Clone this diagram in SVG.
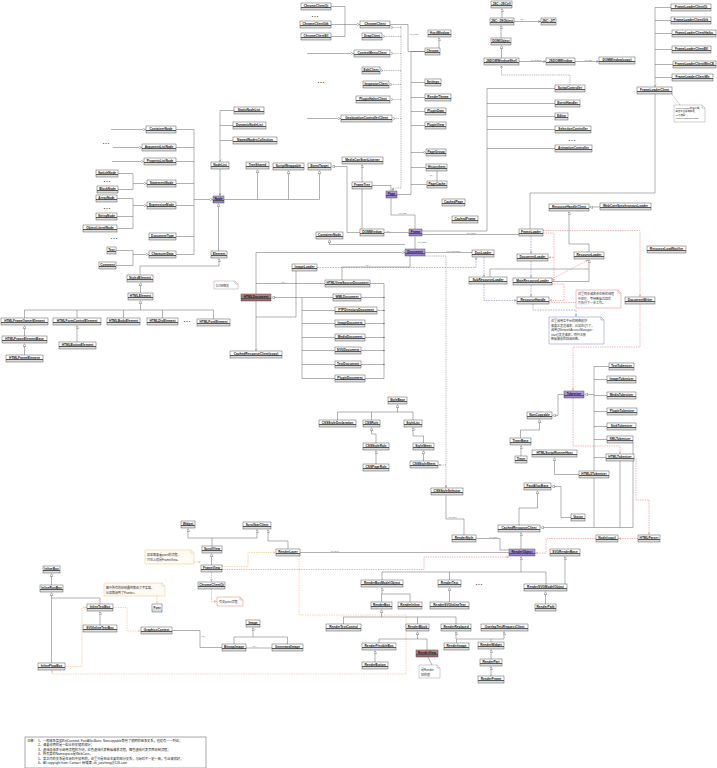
<svg xmlns="http://www.w3.org/2000/svg" width="717" height="768" viewBox="0 0 717 768">
<defs>
<linearGradient id="gw" x1="0" y1="0" x2="0" y2="1"><stop offset="0" stop-color="#fff"/><stop offset=".64" stop-color="#fff"/><stop offset=".64" stop-color="#555"/><stop offset=".68" stop-color="#555"/><stop offset=".68" stop-color="#dcdcdc"/><stop offset=".82" stop-color="#dcdcdc"/><stop offset=".82" stop-color="#666"/><stop offset=".85" stop-color="#666"/><stop offset=".85" stop-color="#dcdcdc"/><stop offset="1" stop-color="#dcdcdc"/></linearGradient>
<linearGradient id="gp" x1="0" y1="0" x2="0" y2="1"><stop offset="0" stop-color="#b99ee8"/><stop offset=".64" stop-color="#a98cdc"/><stop offset=".64" stop-color="#555"/><stop offset=".68" stop-color="#555"/><stop offset=".68" stop-color="#9a7fd0"/><stop offset=".82" stop-color="#9a7fd0"/><stop offset=".82" stop-color="#666"/><stop offset=".85" stop-color="#666"/><stop offset=".85" stop-color="#9a7fd0"/><stop offset="1" stop-color="#9a7fd0"/></linearGradient>
<linearGradient id="gr" x1="0" y1="0" x2="0" y2="1"><stop offset="0" stop-color="#bd8585"/><stop offset=".64" stop-color="#b07272"/><stop offset=".64" stop-color="#555"/><stop offset=".68" stop-color="#555"/><stop offset=".68" stop-color="#a06464"/><stop offset=".82" stop-color="#a06464"/><stop offset=".82" stop-color="#666"/><stop offset=".85" stop-color="#666"/><stop offset=".85" stop-color="#a06464"/><stop offset="1" stop-color="#a06464"/></linearGradient>
<marker id="t" viewBox="0 0 10 10" refX="10" refY="5" markerWidth="3" markerHeight="3" markerUnits="userSpaceOnUse" orient="auto"><path d="M0 0L10 5L0 10Z" fill="#fff" stroke="#444" stroke-width="1.2"/></marker>
<marker id="o" viewBox="0 0 10 10" refX="10" refY="5" markerWidth="2.4" markerHeight="2.4" markerUnits="userSpaceOnUse" orient="auto"><circle cx="5" cy="5" r="4" fill="#fff" stroke="#444" stroke-width="1.4"/></marker>
<marker id="ak" viewBox="0 0 10 10" refX="10" refY="5" markerWidth="2.6" markerHeight="2.6" markerUnits="userSpaceOnUse" orient="auto"><path d="M0 1L10 5L0 9" fill="none" stroke="#444" stroke-width="1.4"/></marker>
<marker id="ab" viewBox="0 0 10 10" refX="10" refY="5" markerWidth="2.8" markerHeight="2.8" markerUnits="userSpaceOnUse" orient="auto"><path d="M0 1L10 5L0 9" fill="none" stroke="#6a6ad0" stroke-width="1.4"/></marker>
<marker id="ar" viewBox="0 0 10 10" refX="10" refY="5" markerWidth="2.8" markerHeight="2.8" markerUnits="userSpaceOnUse" orient="auto"><path d="M0 1L10 5L0 9" fill="none" stroke="#e06868" stroke-width="1.4"/></marker>
<marker id="ao" viewBox="0 0 10 10" refX="10" refY="5" markerWidth="2.8" markerHeight="2.8" markerUnits="userSpaceOnUse" orient="auto"><path d="M0 1L10 5L0 9" fill="none" stroke="#f0a850" stroke-width="1.4"/></marker>
</defs>
<style>
.n rect{fill:url(#gw);stroke:#444;stroke-width:.45}
.n.p rect{fill:url(#gp)}
.n.r rect{fill:url(#gr)}
.n text{font-family:"Liberation Sans",Arial,sans-serif;font-weight:bold;font-size:3.2px;text-anchor:middle;fill:#111}
.l{fill:none;stroke:#555;stroke-width:.45}
.d{fill:none;stroke:#444;stroke-width:.4;stroke-dasharray:1 .8}
.bd{fill:none;stroke:#6a6ad0;stroke-width:.5;stroke-dasharray:1.6 1}
.rd{fill:none;stroke:#e06868;stroke-width:.5;stroke-dasharray:1.4 1}
.od{fill:none;stroke:#f0a850;stroke-width:.5;stroke-dasharray:1.4 1}
.nt path{fill:#fff;stroke:#888;stroke-width:.4}
.nt text{font-family:"Liberation Sans","Noto Sans CJK SC",sans-serif;font-size:3px;fill:#333}
.nb path{stroke:#6060c8}
.nr path{stroke:#e06060}
.no path{stroke:#f0b060;fill:#fffaf2}
.dots{font-family:"Liberation Sans",sans-serif;font-size:4px;fill:#333;text-anchor:middle}
.m{font-family:"Liberation Sans",sans-serif;font-size:2.2px;fill:#555}
.lg{font-family:"Liberation Sans","Noto Sans CJK SC",sans-serif;font-size:3.2px;fill:#222}
</style>
<rect width="717" height="768" fill="#fff"/>

<g id="connectors">
<path class="l" d="M331 6.5H345V36.5H331M331 24.5H345"/>
<path class="l" d="M345 24.5H359.5" marker-end="url(#t)"/>
<path class="l" d="M390 24.5H408V51.5H425"/>
<path class="l" d="M439 48V37.5" marker-end="url(#t)"/>
<path class="d" d="M401 26V188H393V190.5" marker-end="url(#ak)"/>
<path class="d" d="M401 27.5H390.5" marker-end="url(#o)"/>
<path class="d" d="M401 36.5H382.5" marker-end="url(#o)"/>
<path class="d" d="M401 53.5H390.5" marker-end="url(#o)"/>
<path class="d" d="M401 70.5H380.5" marker-end="url(#o)"/>
<path class="d" d="M401 84.5H389.5" marker-end="url(#o)"/>
<path class="d" d="M401 99.5H390.5" marker-end="url(#o)"/>
<path class="d" d="M401 118.5H392.5" marker-end="url(#o)"/>
<path class="l" d="M307 53.5H353.5" marker-end="url(#t)"/>
<path class="l" d="M307 118.5H340.5" marker-end="url(#t)"/>
<path class="l" d="M425 51.5H411V194.5H397M411 82.5H425M411 97.5H425M411 111.5H425M411 125.5H425M411 167.5H426M411 184.5H427"/>
<path class="l" d="M411 152.5H425.5" marker-end="url(#o)"/>
<path class="l" d="M437 171V181"/>
<path class="l" d="M234 110.5H220V161.5" marker-end="url(#t)"/>
<path class="l" d="M220 125.5H233M220 140.5H233"/>
<path class="l" d="M220 169V195.5" marker-end="url(#ak)"/>
<path class="l" d="M224 199.5H319.5"/>
<path class="l" d="M257.5 199.5V169.5" marker-end="url(#t)"/>
<path class="l" d="M288.5 199.5V170.5" marker-end="url(#t)"/>
<path class="l" d="M319.5 199.5V170.5" marker-end="url(#t)"/>
<path class="l" d="M360 232.5H347V166.5H331.5" marker-end="url(#t)"/>
<path class="l" d="M362 182V164.5" marker-end="url(#t)"/>
<path class="l" d="M362 189V229"/>
<path class="l" d="M372 185.5H391V191"/>
<path class="l" d="M391 198V215H415V229"/>
<path class="l" d="M384 232.5H409"/>
<path class="l" d="M422 234.5H519"/>
<path class="l" d="M422 231H487V88.5H555M487 103.5H555M487 116.5H555M487 129.5H555M487 148.5H555"/>
<path class="l" d="M655 20.5H671M655 33.5H672M655 49.5H672M655 64.5H673M655 77.5H672M655 7.5H671"/>
<path class="l" d="M655 7.5V86.5" marker-end="url(#t)"/>
<path class="l" d="M655 94V193H530V229"/>
<path class="d" d="M672 94L680 105"/>
<path class="l" d="M502 18V8.5" marker-end="url(#t)"/>
<path class="l" d="M514 21.5H540.5" marker-end="url(#ak)"/>
<path class="l" d="M501 38V25.5" marker-end="url(#t)"/>
<path class="l" d="M501.5 58V45.5" marker-end="url(#t)"/>
<path class="l" d="M519 61.5H545.5" marker-end="url(#ak)"/>
<path class="l" d="M575 61.5H598.5" marker-end="url(#ak)"/>
<path class="d" d="M570 85V75H501.5V65.5" marker-end="url(#ak)"/>
<path class="l" d="M589 252V244H569V211.5" marker-end="url(#t)"/>
<path class="l" d="M600 207H589.5" marker-end="url(#t)"/>
<path class="bd" d="M531 236V253.5" marker-end="url(#ab)"/>
<path class="bd" d="M531 261V277.5" marker-end="url(#ab)"/>
<path class="bd" d="M531 285V296.5" marker-end="url(#ab)"/>
<path class="bd" d="M533 304V310H576V316.5" marker-end="url(#ab)"/>
<path class="bd" d="M484 257V276.5" marker-end="url(#ab)"/>
<path class="bd" d="M484 284V300.5H516.5" marker-end="url(#ab)"/>
<path class="bd" d="M317 267.5H476V257.5" marker-end="url(#ab)"/>
<path class="l" d="M490 277V269H589V259.5" marker-end="url(#t)"/>
<path class="l" d="M552 281.5H589V269"/>
<path class="rd" d="M543 233H554V257.5H548.5" marker-end="url(#ar)"/>
<path class="rd" d="M554 257.5V280H552.5" marker-end="url(#ar)"/>
<path class="rd" d="M552 284H564V300.5H549.5" marker-end="url(#ar)"/>
<path class="rd" d="M552 279L588 260" marker-end="url(#ar)"/>
<path class="rd" d="M549 302.5H576"/>
<path class="rd" d="M543 230.5H640V296.5" marker-end="url(#ar)"/>
<path class="rd" d="M640 304V347H573V390.5" marker-end="url(#ar)"/>
<path class="rd" d="M573 398V446H620V453.5" marker-end="url(#ar)"/>
<path class="rd" d="M634 458H636V500H649V534.5" marker-end="url(#ar)"/>
<path class="rd" d="M638 538.5H618.5" marker-end="url(#ar)"/>
<path class="rd" d="M596 538.5H546V553H535.5" marker-end="url(#ar)"/>
<path class="l" d="M594 366.5V527.5M594 366.5H609M594 379.5H607M594 395.5H607M594 411.5H607M594 426.5H607M594 439.5H607M594 457.5H606"/>
<path class="l" d="M594 394.5H584.5" marker-end="url(#t)"/>
<path class="l" d="M594 527.5H540.5" marker-end="url(#t)"/>
<path class="l" d="M594 527.5H633V443M620 527.5V461"/>
<path class="l" d="M564 394.5H558V415.5H552.5" marker-end="url(#t)"/>
<path class="l" d="M520.5 438V430H539.5V419.5" marker-end="url(#t)"/>
<path class="l" d="M521 456V445.5" marker-end="url(#t)"/>
<path class="l" d="M579 474.5H554.5V457.5" marker-end="url(#t)"/>
<path class="l" d="M519 525V508H537.5V490.5" marker-end="url(#t)"/>
<path class="l" d="M571 517.5H561V486.5H551.5" marker-end="url(#t)"/>
<path class="l" d="M521 549V532.5" marker-end="url(#t)"/>
<path class="l" d="M521 572V556.5" marker-end="url(#t)"/>
<path class="l" d="M382 572H546V584M382 572V580M449.5 572V580"/>
<path class="l" d="M565 584V556.5" marker-end="url(#t)"/>
<path class="l" d="M300 552.5H509"/>
<path class="l" d="M476 538.5H500V550H509"/>
<path class="l" d="M446 495.5V519H464V535"/>
<path class="d" d="M425 256H446V487.5" marker-end="url(#ak)"/>
<path class="d" d="M446 465H438.5" marker-end="url(#ak)"/>
<path class="l" d="M397.5 412V404.5" marker-end="url(#t)"/>
<path class="l" d="M337.5 420V412H413V420M371.5 412V420"/>
<path class="l" d="M376 443V434H371.5V427.5" marker-end="url(#t)"/>
<path class="l" d="M376 464V450.5" marker-end="url(#t)"/>
<path class="l" d="M423.5 443V436H413V427.5" marker-end="url(#t)"/>
<path class="l" d="M423.5 461V450.5" marker-end="url(#t)"/>
<path class="l" d="M405 244.5H329.5V239.5" marker-end="url(#t)"/>
<path class="l" d="M256 294V252.5H404.5" marker-end="url(#t)"/>
<path class="l" d="M256 301V350.5" marker-end="url(#t)"/>
<path class="l" d="M302 297.5H271.5" marker-end="url(#t)"/>
<path class="l" d="M302 297.5V378.5M302 297.5H333M302 310.5H335M302 323.5H335M302 337.5H335M302 350.5H335M302 364.5H335M302 378.5H335M256 283.5H325"/>
<path class="l" d="M370 283.5H384V378.5M361 297.5H384M377 310.5H384M365 323.5H384M365 337.5H384M361 350.5H384M361 364.5H384M365 378.5H384"/>
<g fill="#333"><circle cx="384" cy="297.5" r=".6"/><circle cx="384" cy="310.5" r=".6"/><circle cx="384" cy="323.5" r=".6"/><circle cx="384" cy="337.5" r=".6"/><circle cx="384" cy="350.5" r=".6"/><circle cx="384" cy="364.5" r=".6"/></g>
<path class="l" d="M410 256V267H342V280"/>
<path class="l" d="M296 271V317H256"/>
<path class="l" d="M415 249V236.5"/>
<path class="l" d="M425 252.5H472"/>
<path class="l" d="M111 129.5H145.5" marker-end="url(#t)"/>
<path class="l" d="M113 147.5H141.5" marker-end="url(#t)"/>
<path class="l" d="M112 161.5H143.5" marker-end="url(#t)"/>
<path class="l" d="M118 173.5H133V189.5H118"/>
<path class="l" d="M133 183.5H146.5" marker-end="url(#t)"/>
<path class="l" d="M117 198.5H133V228.5H117M117 216.5H133"/>
<path class="l" d="M133 205.5H146.5" marker-end="url(#t)"/>
<path class="l" d="M116 250.5H133V265.5H116"/>
<path class="l" d="M133 254.5H148.5" marker-end="url(#t)"/>
<path class="l" d="M176 129.5H194V254.5H176M176 147.5H194M176 161.5H194M176 183.5H194M176 205.5H194M176 236.5H194"/>
<path class="l" d="M194 199.5H212.5" marker-end="url(#t)"/>
<path class="l" d="M218.5 251V203.5" marker-end="url(#t)"/>
<path class="l" d="M140 275V266H219V258.5" marker-end="url(#t)"/>
<path class="l" d="M140.5 293V282.5" marker-end="url(#t)"/>
<path class="l" d="M140.5 310V300.5" marker-end="url(#t)"/>
<path class="l" d="M24.5 318V310H213.5V319M77 310V318M123.5 310V318M162.5 310V318"/>
<path class="l" d="M24.5 336V325.5" marker-end="url(#t)"/>
<path class="l" d="M24.5 355V343.5" marker-end="url(#t)"/>
<path class="l" d="M77 342V325.5" marker-end="url(#t)"/>
<path class="l" d="M212 546V538H188V528.5" marker-end="url(#t)"/>
<path class="l" d="M212 538H257V529.5" marker-end="url(#t)"/>
<path class="l" d="M288 549V541H268V529.5" marker-end="url(#t)"/>
<path class="l" d="M211.5 565V553.5" marker-end="url(#t)"/>
<path class="rd" d="M211.5 572V581.5" marker-end="url(#ar)"/>
<path class="rd" d="M211.5 589V601.5H216.5" marker-end="url(#ar)"/>
<path class="od" d="M222 566.5H248V552.5H275.5" marker-end="url(#ao)"/>
<path class="rd" d="M222 569.5H424V557H508.5" marker-end="url(#ar)"/>
<path class="od" d="M299 556V615H406V674H52V670.5" marker-end="url(#ao)"/>
<path class="od" d="M194 562H200.5" marker-end="url(#ao)"/>
<path class="l" d="M51.5 585V573.5" marker-end="url(#t)"/>
<path class="l" d="M100 604V598H51.5V592.5" marker-end="url(#t)"/>
<path class="l" d="M51.5 663V598"/>
<path class="l" d="M100 625V611.5" marker-end="url(#t)"/>
<path class="od" d="M113 607.5H127V631H140.5" marker-end="url(#ao)"/>
<path class="od" d="M65 666.5H82V607.5H86.5" marker-end="url(#ao)"/>
<path class="od" d="M157 596V603.5" marker-end="url(#ao)"/>
<path class="l" d="M172 630.5H200V647.5H222"/>
<path class="l" d="M253 637V627.5" marker-end="url(#t)"/>
<path class="l" d="M234 644V637H287.5V644"/>
<path class="l" d="M246 648H272"/>
<path class="l" d="M382 594V587.5" marker-end="url(#t)"/>
<path class="l" d="M381.5 602V594H410V602"/>
<path class="l" d="M449.5 602V587.5" marker-end="url(#t)"/>
<path class="l" d="M381.5 617V609.5" marker-end="url(#t)"/>
<path class="l" d="M343.5 624V617H456V624M417.5 617V624"/>
<path class="l" d="M417.5 639V631.5" marker-end="url(#t)"/>
<path class="l" d="M379 643V639H427V650"/>
<path class="l" d="M375 662V650.5" marker-end="url(#t)"/>
<path class="l" d="M456 639V631.5" marker-end="url(#t)"/>
<path class="l" d="M456.5 643V639H491V642"/>
<path class="l" d="M491 639H504V631.5" marker-end="url(#t)"/>
<path class="l" d="M491 659V649.5" marker-end="url(#t)"/>
<path class="l" d="M491 676V666.5" marker-end="url(#t)"/>
<path class="l" d="M545.5 604V591.5" marker-end="url(#t)"/>
<path class="l" d="M428 657L432 665"/>
<text class="m" x="409" y="35">+m_client</text>
<text class="m" x="520" y="20">+m_...</text>
<text class="m" x="530" y="60.5">+m_window</text>
<text class="m" x="584" y="60.5">+m_impl</text>
<text class="m" x="398" y="214">+m_page</text>
<text class="m" x="386" y="231.5">+m_...</text>
<text class="m" x="466" y="233.5">+m_loader</text>
<text class="m" x="417" y="243">+m_frame</text>
<text class="m" x="446" y="251.5">+m_docLoader</text>
<text class="m" x="365" y="266">+m_...</text>
<text class="m" x="281" y="282.5">+m_...</text>
<text class="m" x="448" y="518">+m_style</text>
<text class="m" x="489" y="537.5">+m_style</text>
<text class="m" x="330" y="551.5">+m_layer</text>
<text class="m" x="201" y="637">+m_...</text>
<text class="m" x="252" y="647">+m_...</text>
<text class="m" x="429" y="176">+m_...</text>
</g>

<g id="ChromeClientQt" class="n"><rect x="301" y="3" width="30" height="7"/><text x="316" y="7">ChromeClientQt</text></g>
<g id="ChromeClientGtk" class="n"><rect x="300" y="21" width="31" height="7"/><text x="315.5" y="25">ChromeClientGtk</text></g>
<g id="ChromeClientEfl" class="n"><rect x="301" y="33" width="30" height="7"/><text x="316" y="37">ChromeClientEfl</text></g>
<g id="ChromeClient" class="n"><rect x="360" y="21" width="30" height="7"/><text x="375" y="25">ChromeClient</text></g>
<g id="DragClient" class="n"><rect x="362" y="33" width="20" height="7"/><text x="372" y="37">DragClient</text></g>
<g id="ContextMenuClient" class="n"><rect x="354" y="50" width="36" height="7"/><text x="372" y="54">ContextMenuClient</text></g>
<g id="EditClient" class="n"><rect x="362" y="67" width="18" height="7"/><text x="371" y="71">EditClient</text></g>
<g id="InspectorClient" class="n"><rect x="363" y="81" width="26" height="7"/><text x="376" y="85">InspectorClient</text></g>
<g id="PluginHalterClient" class="n"><rect x="356" y="96" width="34" height="7"/><text x="373" y="100">PluginHalterClient</text></g>
<g id="GeolocationControllerClient" class="n"><rect x="341" y="115" width="51" height="7"/><text x="366.5" y="119">GeolocationControllerClient</text></g>
<g id="HostWindow" class="n"><rect x="428" y="30" width="23" height="7"/><text x="439.5" y="34">HostWindow</text></g>
<g id="Chrome" class="n"><rect x="425" y="48" width="15" height="7"/><text x="432.5" y="52">Chrome</text></g>
<g id="Settings" class="n"><rect x="425" y="79" width="16" height="7"/><text x="433" y="83">Settings</text></g>
<g id="RenderTheme" class="n"><rect x="425" y="94" width="26" height="7"/><text x="438" y="98">RenderTheme</text></g>
<g id="PluginData" class="n"><rect x="425" y="108" width="21" height="7"/><text x="435.5" y="112">PluginData</text></g>
<g id="PluginView" class="n"><rect x="425" y="122" width="21" height="7"/><text x="435.5" y="126">PluginView</text></g>
<g id="PageGroup" class="n"><rect x="426" y="149" width="20" height="7"/><text x="436" y="153">PageGroup</text></g>
<g id="HistoryItem" class="n"><rect x="426" y="164" width="21" height="7"/><text x="436.5" y="168">HistoryItem</text></g>
<g id="PageCache" class="n"><rect x="427" y="181" width="20" height="7"/><text x="437" y="185">PageCache</text></g>
<g id="StaticNodeList" class="n"><rect x="234" y="107" width="30" height="7"/><text x="249" y="111">StaticNodeList</text></g>
<g id="DynamicNodeList" class="n"><rect x="233" y="122" width="33" height="7"/><text x="249.5" y="126">DynamicNodeList</text></g>
<g id="NamedNodesCollection" class="n"><rect x="233" y="137" width="44" height="7"/><text x="255" y="141">NamedNodesCollection</text></g>
<g id="NodeList" class="n"><rect x="211" y="162" width="18" height="7"/><text x="220" y="166">NodeList</text></g>
<g id="TreeShared" class="n"><rect x="246" y="162" width="23" height="7"/><text x="257.5" y="166">TreeShared</text></g>
<g id="ScriptWrappable" class="n"><rect x="273" y="163" width="31" height="7"/><text x="288.5" y="167">ScriptWrappable</text></g>
<g id="EventTarget" class="n"><rect x="308" y="163" width="23" height="7"/><text x="319.5" y="167">EventTarget</text></g>
<g id="MediaCanStartListener" class="n"><rect x="342" y="157" width="41" height="7"/><text x="362.5" y="161">MediaCanStartListener</text></g>
<g id="FrameTree" class="n"><rect x="352" y="182" width="20" height="7"/><text x="362" y="186">FrameTree</text></g>
<g id="Page" class="n p"><rect x="386" y="191" width="11" height="7"/><text x="391.5" y="195">Page</text></g>
<g id="CachedPage" class="n"><rect x="442" y="199" width="23" height="7"/><text x="453.5" y="203">CachedPage</text></g>
<g id="CachedFrame" class="n"><rect x="452" y="216" width="26" height="7"/><text x="465" y="220">CachedFrame</text></g>
<g id="DOMWindow" class="n"><rect x="360" y="229" width="24" height="7"/><text x="372" y="233">DOMWindow</text></g>
<g id="Frame" class="n p"><rect x="409" y="229" width="13" height="7"/><text x="415.5" y="233">Frame</text></g>
<g id="ContainerNode" class="n"><rect x="316" y="232" width="27" height="7"/><text x="329.5" y="236">ContainerNode</text></g>
<g id="Document" class="n p"><rect x="405" y="249" width="20" height="7"/><text x="415" y="253">Document</text></g>
<g id="DocLoader" class="n"><rect x="472" y="250" width="22" height="7"/><text x="483" y="254">DocLoader</text></g>
<g id="SubResourceLoader" class="n"><rect x="469" y="277" width="38" height="7"/><text x="488" y="281">SubResourceLoader</text></g>
<g id="HTMLDocument" class="n r"><rect x="241" y="294" width="30" height="7"/><text x="256" y="298">HTMLDocument</text></g>
<g id="ImageLoader" class="n"><rect x="292" y="264" width="25" height="7"/><text x="304.5" y="268">ImageLoader</text></g>
<g id="HTMLViewSourceDocument" class="n"><rect x="325" y="280" width="45" height="7"/><text x="347.5" y="284">HTMLViewSourceDocument</text></g>
<g id="WMLDocument" class="n"><rect x="333" y="294" width="28" height="7"/><text x="347" y="298">WMLDocument</text></g>
<g id="FTPDirectoryDocument" class="n"><rect x="335" y="307" width="42" height="7"/><text x="356" y="311">FTPDirectoryDocument</text></g>
<g id="ImageDocument" class="n"><rect x="335" y="320" width="30" height="7"/><text x="350" y="324">ImageDocument</text></g>
<g id="MediaDocument" class="n"><rect x="335" y="334" width="30" height="7"/><text x="350" y="338">MediaDocument</text></g>
<g id="SVGDocument" class="n"><rect x="335" y="347" width="26" height="7"/><text x="348" y="351">SVGDocument</text></g>
<g id="TextDocument" class="n"><rect x="335" y="361" width="26" height="7"/><text x="348" y="365">TextDocument</text></g>
<g id="PluginDocument" class="n"><rect x="335" y="375" width="30" height="7"/><text x="350" y="379">PluginDocument</text></g>
<g id="CachedResourceClientCopy" class="n"><rect x="230" y="351" width="52" height="7"/><text x="256" y="355">CachedResourceClient(copy)</text></g>

<g id="JSCell" class="n"><rect x="491" y="1" width="21" height="7"/><text x="501.5" y="5">JSC::JSCell</text></g>
<g id="JSObject" class="n"><rect x="490" y="18" width="24" height="7"/><text x="502" y="22">JSC::JSObject</text></g>
<g id="JIT" class="n"><rect x="541" y="18" width="15" height="7"/><text x="548.5" y="22">JSC::JIT</text></g>
<g id="DOMObject" class="n"><rect x="491" y="38" width="20" height="7"/><text x="501" y="42">DOMObject</text></g>
<g id="JSDOMWindowShell" class="n"><rect x="484" y="58" width="35" height="7"/><text x="501.5" y="62">JSDOMWindowShell</text></g>
<g id="JSDOMWindow" class="n"><rect x="546" y="58" width="29" height="7"/><text x="560.5" y="62">JSDOMWindow</text></g>
<g id="DOMWindowCopy" class="n"><rect x="599" y="57" width="36" height="7"/><text x="617" y="61">DOMWindow(copy)</text></g>
<g id="ScriptController" class="n"><rect x="555" y="85" width="30" height="7"/><text x="570" y="89">ScriptController</text></g>
<g id="EventHandler" class="n"><rect x="555" y="100" width="25" height="7"/><text x="567.5" y="104">EventHandler</text></g>
<g id="Editor" class="n"><rect x="555" y="113" width="13" height="7"/><text x="561.5" y="117">Editor</text></g>
<g id="SelectionController" class="n"><rect x="555" y="126" width="36" height="7"/><text x="573" y="130">SelectionController</text></g>
<g id="AnimationController" class="n"><rect x="555" y="145" width="37" height="7"/><text x="573.5" y="149">AnimationController</text></g>
<g id="FrameLoaderClientQt" class="n"><rect x="671" y="4" width="40" height="7"/><text x="691" y="8">FrameLoaderClientQt</text></g>
<g id="FrameLoaderClientGtk" class="n"><rect x="671" y="17" width="40" height="7"/><text x="691" y="21">FrameLoaderClientGtk</text></g>
<g id="FrameLoaderClientHaiku" class="n"><rect x="672" y="30" width="44" height="7"/><text x="694" y="34">FrameLoaderClientHaiku</text></g>
<g id="FrameLoaderClientEfl" class="n"><rect x="672" y="46" width="39" height="7"/><text x="691.5" y="50">FrameLoaderClientEfl</text></g>
<g id="FrameLoaderClientWinCE" class="n"><rect x="673" y="61" width="43" height="7"/><text x="694.5" y="65">FrameLoaderClientWinCE</text></g>
<g id="FrameLoaderClientWx" class="n"><rect x="672" y="74" width="41" height="7"/><text x="692.5" y="78">FrameLoaderClientWx</text></g>
<g id="FrameLoaderClient" class="n"><rect x="637" y="87" width="35" height="7"/><text x="654.5" y="91">FrameLoaderClient</text></g>
<g id="ResourceHandleClient" class="n"><rect x="549" y="204" width="40" height="7"/><text x="569" y="208">ResourceHandleClient</text></g>
<g id="WebCoreSynchronousLoader" class="n"><rect x="600" y="203" width="51" height="7"/><text x="625.5" y="207">WebCoreSynchronousLoader</text></g>
<g id="FrameLoader" class="n"><rect x="519" y="229" width="24" height="7"/><text x="531" y="233">FrameLoader</text></g>
<g id="DocumentLoader" class="n"><rect x="517" y="254" width="31" height="7"/><text x="532.5" y="258">DocumentLoader</text></g>
<g id="ResourceLoader" class="n"><rect x="574" y="252" width="30" height="7"/><text x="589" y="256">ResourceLoader</text></g>
<g id="ResourceLoadNotifier" class="n"><rect x="647" y="246" width="39" height="7"/><text x="666.5" y="250">ResourceLoadNotifier</text></g>
<g id="MainResourceLoader" class="n"><rect x="513" y="278" width="39" height="7"/><text x="532.5" y="282">MainResourceLoader</text></g>
<g id="ResourceHandle" class="n"><rect x="517" y="297" width="32" height="7"/><text x="533" y="301">ResourceHandle</text></g>
<g id="DocumentWriter" class="n"><rect x="625" y="297" width="30" height="7"/><text x="640" y="301">DocumentWriter</text></g>
<g id="TextTokenizer" class="n"><rect x="609" y="363" width="25" height="7"/><text x="621.5" y="367">TextTokenizer</text></g>
<g id="ImageTokenizer" class="n"><rect x="607" y="376" width="29" height="7"/><text x="621.5" y="380">ImageTokenizer</text></g>
<g id="MediaTokenizer" class="n"><rect x="607" y="392" width="29" height="7"/><text x="621.5" y="396">MediaTokenizer</text></g>
<g id="PluginTokenizer" class="n"><rect x="607" y="408" width="30" height="7"/><text x="622" y="412">PluginTokenizer</text></g>
<g id="SinkTokenizer" class="n"><rect x="607" y="423" width="29" height="7"/><text x="621.5" y="427">SinkTokenizer</text></g>
<g id="XMLTokenizer" class="n"><rect x="607" y="436" width="26" height="7"/><text x="620" y="440">XMLTokenizer</text></g>
<g id="HTMLTokenizer" class="n"><rect x="606" y="454" width="28" height="7"/><text x="620" y="458">HTMLTokenizer</text></g>
<g id="Tokenizer" class="n p"><rect x="564" y="391" width="20" height="7"/><text x="574" y="395">Tokenizer</text></g>
<g id="NonCopyable" class="n"><rect x="527" y="412" width="25" height="7"/><text x="539.5" y="416">NonCopyable</text></g>
<g id="TimerBase" class="n"><rect x="510" y="438" width="21" height="7"/><text x="520.5" y="442">TimerBase</text></g>
<g id="Timer" class="n"><rect x="515" y="456" width="12" height="7"/><text x="521" y="460">Timer</text></g>
<g id="HTMLScriptRunnerHost" class="n"><rect x="532" y="450" width="45" height="7"/><text x="554.5" y="454">HTMLScriptRunnerHost</text></g>
<g id="HTML5Tokenizer" class="n"><rect x="579" y="471" width="30" height="7"/><text x="594" y="475">HTML5Tokenizer</text></g>
<g id="FastAllocBase" class="n"><rect x="524" y="483" width="27" height="7"/><text x="537.5" y="487">FastAllocBase</text></g>
<g id="Vector" class="n"><rect x="571" y="514" width="14" height="7"/><text x="578" y="518">Vector</text></g>
<g id="CachedResourceClient" class="n"><rect x="498" y="525" width="42" height="7"/><text x="519" y="529">CachedResourceClient</text></g>
<g id="RenderObject" class="n p"><rect x="509" y="549" width="26" height="7"/><text x="522" y="553">RenderObject</text></g>
<g id="SVGRenderBase" class="n"><rect x="550" y="549" width="30" height="7"/><text x="565" y="553">SVGRenderBase</text></g>
<g id="NodeCopy" class="n"><rect x="596" y="535" width="22" height="7"/><text x="607" y="539">Node(copy)</text></g>
<g id="HTMLParser" class="n"><rect x="638" y="535" width="22" height="7"/><text x="649" y="539">HTMLParser</text></g>
<g id="StyleBase" class="n"><rect x="388" y="397" width="19" height="7"/><text x="397.5" y="401">StyleBase</text></g>
<g id="CSSStyleDeclaration" class="n"><rect x="319" y="420" width="37" height="7"/><text x="337.5" y="424">CSSStyleDeclaration</text></g>
<g id="CSSRule" class="n"><rect x="363" y="420" width="17" height="7"/><text x="371.5" y="424">CSSRule</text></g>
<g id="StyleList" class="n"><rect x="404" y="420" width="18" height="7"/><text x="413" y="424">StyleList</text></g>
<g id="CSSStyleRule" class="n"><rect x="363" y="443" width="26" height="7"/><text x="376" y="447">CSSStyleRule</text></g>
<g id="CSSPageRule" class="n"><rect x="363" y="464" width="26" height="7"/><text x="376" y="468">CSSPageRule</text></g>
<g id="StyleSheet" class="n"><rect x="413" y="443" width="21" height="7"/><text x="423.5" y="447">StyleSheet</text></g>
<g id="CSSStyleSheet" class="n"><rect x="410" y="461" width="28" height="7"/><text x="424" y="465">CSSStyleSheet</text></g>
<g id="CSSStyleSelector" class="n"><rect x="431" y="488" width="32" height="7"/><text x="447" y="492">CSSStyleSelector</text></g>
<g id="RenderStyle" class="n"><rect x="452" y="535" width="24" height="7"/><text x="464" y="539">RenderStyle</text></g>

<g id="ContainerNode-2" class="n"><rect x="146" y="126" width="30" height="7"/><text x="161" y="130">ContainerNode</text></g>
<g id="ArgumentListNode" class="n"><rect x="142" y="144" width="34" height="7"/><text x="159" y="148">ArgumentListNode</text></g>
<g id="PropertyListNode" class="n"><rect x="144" y="158" width="32" height="7"/><text x="160" y="162">PropertyListNode</text></g>
<g id="SwitchNode" class="n"><rect x="96" y="170" width="22" height="7"/><text x="107" y="174">SwitchNode</text></g>
<g id="BlockNode" class="n"><rect x="97" y="186" width="21" height="7"/><text x="107.5" y="190">BlockNode</text></g>
<g id="StatementNode" class="n"><rect x="147" y="180" width="29" height="7"/><text x="161.5" y="184">StatementNode</text></g>
<g id="ArrayNode" class="n"><rect x="96" y="195" width="21" height="7"/><text x="106.5" y="199">ArrayNode</text></g>
<g id="StringNode" class="n"><rect x="96" y="213" width="21" height="7"/><text x="106.5" y="217">StringNode</text></g>
<g id="ObjectLiteralNode" class="n"><rect x="83" y="225" width="34" height="7"/><text x="100" y="229">ObjectLiteralNode</text></g>
<g id="ExpressionNode" class="n"><rect x="147" y="202" width="29" height="7"/><text x="161.5" y="206">ExpressionNode</text></g>
<g id="Node" class="n p"><rect x="213" y="196" width="11" height="7"/><text x="218.5" y="200">Node</text></g>
<g id="DocumentType" class="n"><rect x="149" y="233" width="27" height="7"/><text x="162.5" y="237">DocumentType</text></g>
<g id="Text" class="n"><rect x="107" y="247" width="9" height="7"/><text x="111.5" y="251">Text</text></g>
<g id="Comment" class="n"><rect x="99" y="262" width="17" height="7"/><text x="107.5" y="266">Comment</text></g>
<g id="CharacterData" class="n"><rect x="149" y="251" width="27" height="7"/><text x="162.5" y="255">CharacterData</text></g>
<g id="Element" class="n"><rect x="211" y="251" width="16" height="7"/><text x="219" y="255">Element</text></g>
<g id="StyledElement" class="n"><rect x="127" y="275" width="26" height="7"/><text x="140" y="279">StyledElement</text></g>
<g id="HTMLElement" class="n"><rect x="128" y="293" width="25" height="7"/><text x="140.5" y="297">HTMLElement</text></g>
<g id="HTMLFrameOwnerElement" class="n"><rect x="1" y="318" width="47" height="7"/><text x="24.5" y="322">HTMLFrameOwnerElement</text></g>
<g id="HTMLFrameElementBase" class="n"><rect x="2" y="336" width="45" height="7"/><text x="24.5" y="340">HTMLFrameElementBase</text></g>
<g id="HTMLFrameElement" class="n"><rect x="6" y="355" width="37" height="7"/><text x="24.5" y="359">HTMLFrameElement</text></g>
<g id="HTMLFormControlElement" class="n"><rect x="53" y="318" width="48" height="7"/><text x="77" y="322">HTMLFormControlElement</text></g>
<g id="HTMLButtonElement" class="n"><rect x="59" y="342" width="37" height="7"/><text x="77.5" y="346">HTMLButtonElement</text></g>
<g id="HTMLBodyElement" class="n"><rect x="107" y="318" width="33" height="7"/><text x="123.5" y="322">HTMLBodyElement</text></g>
<g id="HTMLDivElement" class="n"><rect x="147" y="318" width="31" height="7"/><text x="162.5" y="322">HTMLDivElement</text></g>
<g id="HTMLFontElement" class="n"><rect x="197" y="319" width="33" height="7"/><text x="213.5" y="323">HTMLFontElement</text></g>

<g id="Widget" class="n"><rect x="181" y="521" width="14" height="7"/><text x="188" y="525">Widget</text></g>
<g id="ScrollbarClient" class="n"><rect x="243" y="522" width="28" height="7"/><text x="257" y="526">ScrollbarClient</text></g>
<g id="ScrollView" class="n"><rect x="202" y="546" width="20" height="7"/><text x="212" y="550">ScrollView</text></g>
<g id="FrameView" class="n"><rect x="201" y="565" width="21" height="7"/><text x="211.5" y="569">FrameView</text></g>
<g id="RenderLayer" class="n"><rect x="276" y="549" width="24" height="7"/><text x="288" y="553">RenderLayer</text></g>
<g id="ChromeClientQt-2" class="n"><rect x="198" y="582" width="27" height="7"/><text x="211.5" y="586">ChromeClientQt</text></g>
<g id="InlineBox" class="n"><rect x="43" y="566" width="17" height="7"/><text x="51.5" y="570">InlineBox</text></g>
<g id="InlineRunBox" class="n"><rect x="40" y="585" width="23" height="7"/><text x="51.5" y="589">InlineRunBox</text></g>
<g id="InlineTextBox" class="n"><rect x="87" y="604" width="26" height="7"/><text x="100" y="608">InlineTextBox</text></g>
<g id="SVGInlineTextBox" class="n"><rect x="83" y="625" width="34" height="7"/><text x="100" y="629">SVGInlineTextBox</text></g>
<g id="InlineFlowBox" class="n"><rect x="38" y="663" width="27" height="7"/><text x="51.5" y="667">InlineFlowBox</text></g>
<g id="Font" class="n"><rect x="152" y="604" width="10" height="8"/><text x="157" y="608.5">Font</text></g>
<g id="GraphicsContext" class="n"><rect x="141" y="627" width="31" height="7"/><text x="156.5" y="631">GraphicsContext</text></g>
<g id="Image" class="n"><rect x="246" y="620" width="14" height="7"/><text x="253" y="624">Image</text></g>
<g id="BitmapImage" class="n"><rect x="222" y="644" width="24" height="7"/><text x="234" y="648">BitmapImage</text></g>
<g id="GeneratedImage" class="n"><rect x="272" y="644" width="31" height="7"/><text x="287.5" y="648">GeneratedImage</text></g>

<g id="RenderBoxModelObject" class="n"><rect x="361" y="580" width="42" height="7"/><text x="382" y="584">RenderBoxModelObject</text></g>
<g id="RenderText" class="n"><rect x="438" y="580" width="23" height="7"/><text x="449.5" y="584">RenderText</text></g>
<g id="RenderBox" class="n"><rect x="371" y="602" width="21" height="7"/><text x="381.5" y="606">RenderBox</text></g>
<g id="RenderInline" class="n"><rect x="398" y="602" width="24" height="7"/><text x="410" y="606">RenderInline</text></g>
<g id="RenderSVGInlineText" class="n"><rect x="430" y="602" width="39" height="7"/><text x="449.5" y="606">RenderSVGInlineText</text></g>
<g id="RenderTextControl" class="n"><rect x="326" y="624" width="35" height="7"/><text x="343.5" y="628">RenderTextControl</text></g>
<g id="RenderBlock" class="n"><rect x="406" y="624" width="23" height="7"/><text x="417.5" y="628">RenderBlock</text></g>
<g id="RenderReplaced" class="n"><rect x="441" y="624" width="30" height="7"/><text x="456" y="628">RenderReplaced</text></g>
<g id="RenderFlexibleBox" class="n"><rect x="362" y="643" width="34" height="7"/><text x="379" y="647">RenderFlexibleBox</text></g>
<g id="RenderButton" class="n"><rect x="362" y="662" width="26" height="7"/><text x="375" y="666">RenderButton</text></g>
<g id="RenderView" class="n r"><rect x="416" y="650" width="22" height="7"/><text x="427" y="654">RenderView</text></g>
<g id="RenderImage" class="n"><rect x="444" y="643" width="25" height="7"/><text x="456.5" y="647">RenderImage</text></g>
<g id="RenderSVGModelObject" class="n"><rect x="524" y="584" width="43" height="7"/><text x="545.5" y="588">RenderSVGModelObject</text></g>
<g id="RenderPath" class="n"><rect x="535" y="604" width="21" height="7"/><text x="545.5" y="608">RenderPath</text></g>
<g id="OverlapTestRequestClient" class="n"><rect x="481" y="624" width="47" height="7"/><text x="504.5" y="628">OverlapTestRequestClient</text></g>
<g id="RenderWidget" class="n"><rect x="478" y="642" width="26" height="7"/><text x="491" y="646">RenderWidget</text></g>
<g id="RenderPart" class="n"><rect x="480" y="659" width="22" height="7"/><text x="491" y="663">RenderPart</text></g>
<g id="RenderFrame" class="n"><rect x="478" y="676" width="26" height="7"/><text x="491" y="680">RenderFrame</text></g>

<g id="note-dom" class="nt"><path d="M214 281H235L238 284V289H214Z M235 281V284H238"/><text x="216" y="287">DOM相关</text></g>
<g id="note-frameloaderclient" class="nt"><path d="M674 105H702L705 108V122H674Z M702 105V108H705"/><text x="675.5" y="108.8" style="font-size:2.4px">FrameLoader的客户端，</text><text x="675.5" y="112.2" style="font-size:2.4px">由各平台具体实现，</text><text x="675.5" y="115.6" style="font-size:2.4px">Qt下就是</text><text x="675.5" y="119" style="font-size:2.4px">FrameLoaderClientQt</text></g>
<g id="note-sync" class="nt nr"><path d="M576 290H618L621 293V308H576Z M618 290V293H621"/><text x="578" y="295">这里同步请求会在新的线程</text><text x="578" y="299.5">中处理，等待数据返回后</text><text x="578" y="304">再执行下一步工作。</text></g>
<g id="note-network" class="nt nb"><path d="M549 317H601L604 320V344H549Z M601 317V320H604"/><text x="551" y="322">这里调用各平台的网络模块</text><text x="551" y="326.5">来真正发送请求，比如在QT下，</text><text x="551" y="331">调用QNetworkAccessManager::</text><text x="551" y="335.5">start()发送请求，同时注册</text><text x="551" y="340">数据接收的回调函数。</text></g>
<g id="note-frameview" class="nt no"><path d="M145 550H191L194 553V564H145Z M191 550V553H194"/><text x="147" y="555.5">如果需要看paint的流程，</text><text x="147" y="560.5">再往上就是FrameView。</text></g>
<g id="note-paint" class="nt nr"><path d="M217 597H240L243 600V606H217Z M240 597V600H243"/><text x="219" y="603">有关paint流程</text></g>
<g id="note-inline" class="nt no"><path d="M104 583H162L165 586V596H104Z M162 583V586H165"/><text x="106" y="588.5">图中所有的绘制最终都由文字实现，</text><text x="106" y="593.5">比如都调到了Painter。</text></g>
<g id="note-renderview" class="nt"><path d="M419 665H437L440 668V678H419Z M437 665V668H440"/><text x="421" y="670.5">是Render</text><text x="421" y="675.5">树的根</text></g>

<g id="dots">
<text class="dots" x="315" y="18">• • •</text>
<text class="dots" x="321" y="84">• • •</text>
<text class="dots" x="106" y="145">• • •</text>
<text class="dots" x="107" y="183">• • •</text>
<text class="dots" x="107" y="210">• • •</text>
<text class="dots" x="114" y="240">• • •</text>
<text class="dots" x="187" y="323">• • •</text>
<text class="dots" x="572" y="142">• • •</text>
<text class="dots" x="479" y="586">• • •</text>
</g>

<g id="legend">
<rect x="25" y="737" width="181" height="31" fill="#fff" stroke="#555" stroke-width=".5"/>
<text class="lg" x="27" y="742">注释：</text>
<text class="lg" x="38" y="742">1、一般继承类如RefCounted, FastAllocBase, Noncopyable等省了很明的继承关系，也没有一一列出；</text>
<text class="lg" x="38" y="746.4">2、请要说明的是一些比较关键的部分；</text>
<text class="lg" x="38" y="750.8">3、虚线连线表示调用流程的方向，红色虚线代表数据请求流程，橙色虚线代表页面绘制流程；</text>
<text class="lg" x="38" y="755.2">4、所有类的Namespace是WebCore。</text>
<text class="lg" x="38" y="759.6">5、类之间的关系是在源码中找到的，这里只是画出主要的部分关系，与源码不一定一致，引出来就好；</text>
<text class="lg" x="38" y="764">6、All copyright from: Contact: 杨镇清, zh_junzheng@126.com</text>
</g>
</svg>
